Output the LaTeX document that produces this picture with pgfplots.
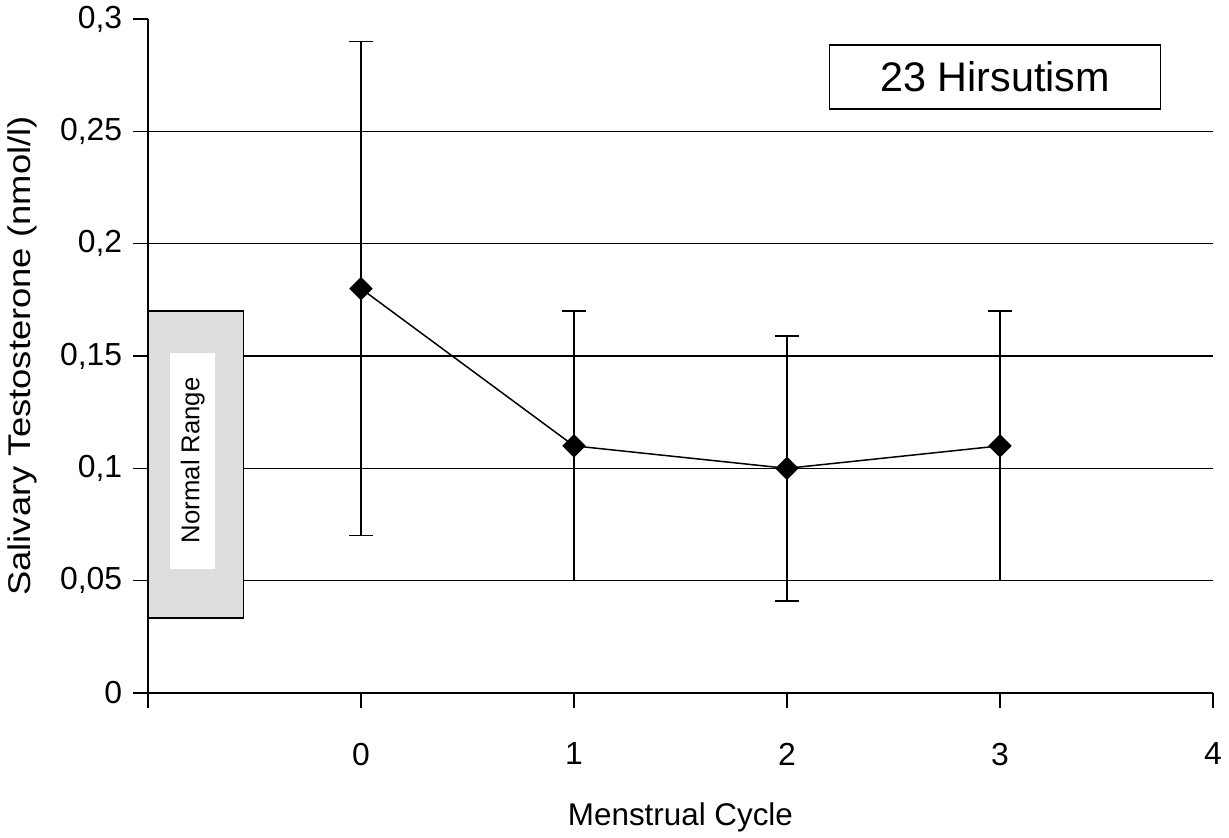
\documentclass[border=0pt]{standalone}
\usepackage{pgfplots}
\pgfplotsset{compat=1.18}
\usepackage{fontspec}
\setmainfont{Liberation Sans}
\definecolor{rangegray}{RGB}{221,221,221}
\begin{document}
\fontsize{32}{32}\selectfont
\begin{tikzpicture}[font=\fontsize{32}{32}\selectfont]
\path[use as bounding box] (-148bp,-145bp) rectangle (1081bp,693bp);
\begin{axis}[
  at={(0,0)}, anchor=south west,
  scale only axis, width=1065bp, height=674bp,
  xmin=-1, xmax=4, ymin=0, ymax=0.3,
  axis lines*=left,
  axis line style={line width=2pt},
  xtick={-1,0,1,2,3,4}, xticklabels={,\mbox{0},\mbox{1},\mbox{2},\mbox{3},\mbox{4}},
  ytick={0,0.05,0.1,0.15,0.2,0.25,0.3},
  yticklabels={\mbox{0},\mbox{0,05},\mbox{0,1},\mbox{0,15},\mbox{0,2},\mbox{0,25},\mbox{0,3}},
  tick align=outside, major tick length=15bp,
  tick style={line width=1.5pt, black},
  extra y ticks={0.05,0.1,0.15,0.2,0.25},
  extra y tick labels={},
  extra y tick style={grid=major, major tick length=0pt},
  grid style={black, line width=1.2pt},
  xticklabel style={font=\fontsize{32}{32}\selectfont, yshift=-24bp},
  yticklabel style={font=\fontsize{32}{32}\selectfont},
  xlabel={Menstrual Cycle}, ylabel={\scalebox{1.16}[1]{Salivary Testosterone (nmol/l)}},
  label style={font=\fontsize{31.5}{31.5}\selectfont},
  xlabel style={at={(axis description cs:0.5,-0.184)}, anchor=center},
  ylabel style={at={(axis description cs:-0.1183,0.5)}, anchor=center},
  clip=false,
]
\addplot[fill=rangegray, draw=black, line width=1.5pt] coordinates {(-1,0.0334) (-0.551,0.0334) (-0.551,0.17) (-1,0.17)} --cycle;
\addplot[fill=white, draw=none] coordinates {(-0.897,0.0552) (-0.687,0.0552) (-0.687,0.1513) (-0.897,0.1513)} --cycle;
\node[rotate=90, font=\fontsize{25.8}{25.8}\selectfont] at (axis cs:-0.79,0.1036) {Normal Range};
\addplot[black, line width=1.5pt, mark=square*, mark size=7.5bp, mark options={rotate=45, solid},
  error bars/.cd, y dir=both, y explicit,
  error bar style={line width=1.5pt, black},
  error mark options={rotate=90, line width=1.5pt, black, mark size=12bp}]
  table[x=x, y=y, y error=ey] {
x y ey
0 0.18 0.11
1 0.11 0.06
2 0.10 0.059
3 0.11 0.06
};
\node[draw, line width=1.2pt, fill=white, minimum width=331bp, minimum height=64bp, inner sep=0pt, font=\fontsize{41.5}{41.5}\selectfont] at (axis cs:2.977,0.2742) {23 Hirsutism};
\end{axis}
\end{tikzpicture}
\end{document}
